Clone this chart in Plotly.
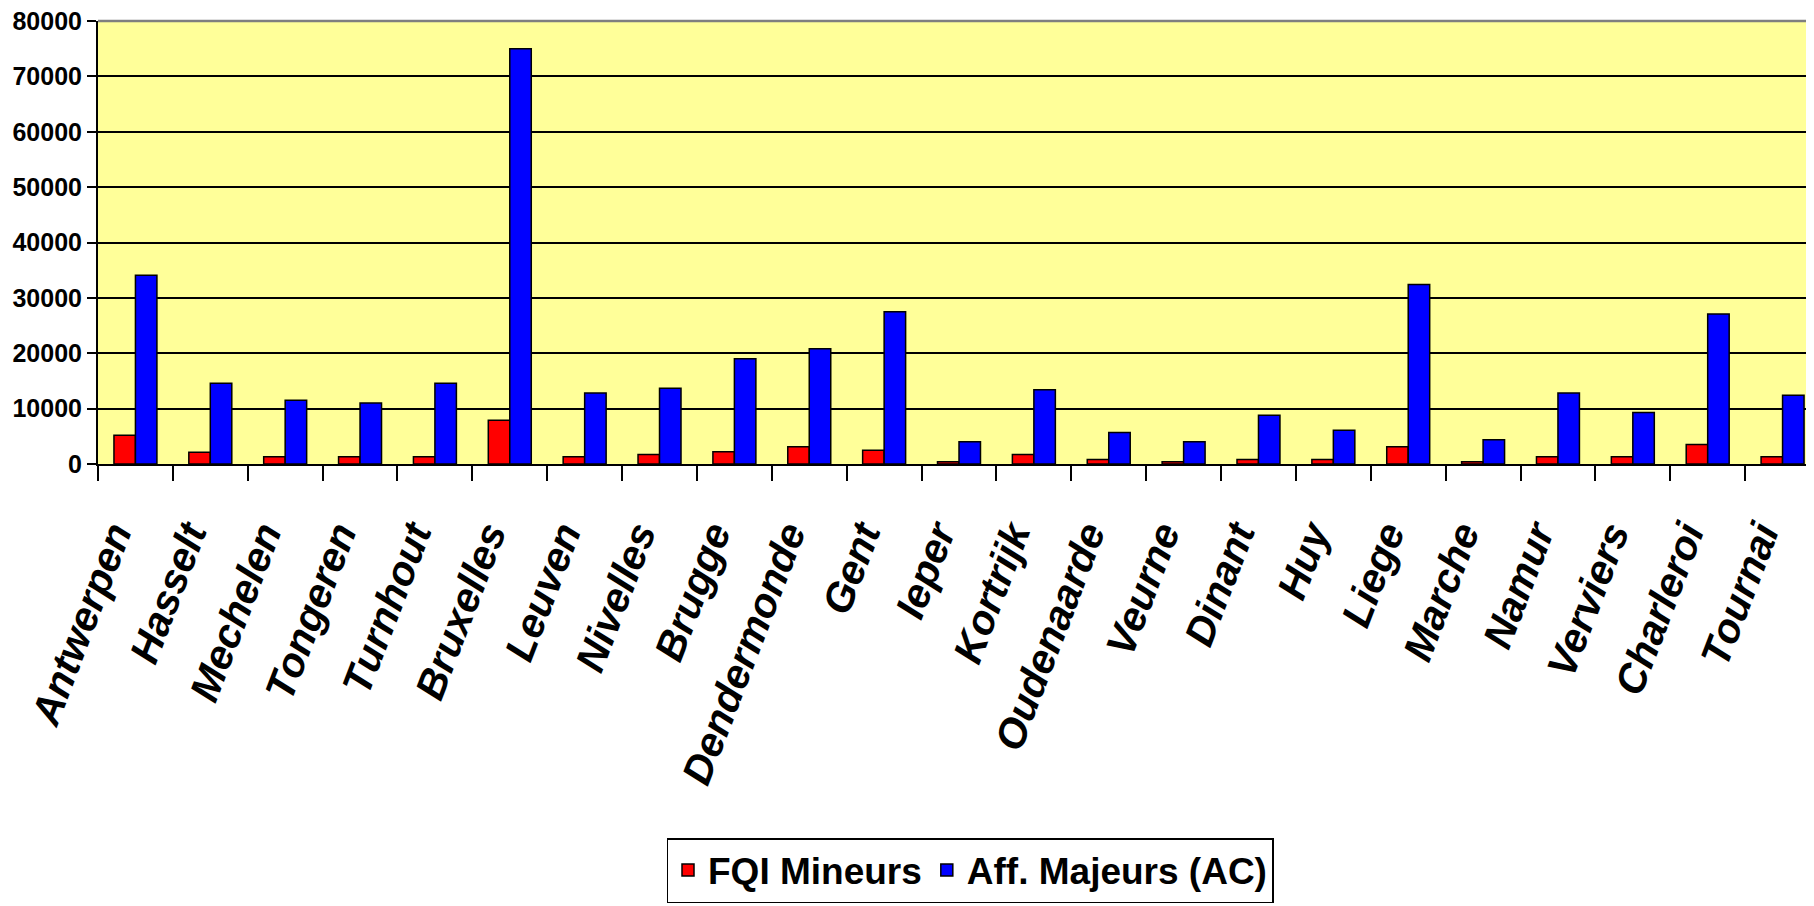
import plotly.graph_objects as go

categories = ["Antwerpen", "Hasselt", "Mechelen", "Tongeren", "Turnhout", "Bruxelles",
              "Leuven", "Nivelles", "Brugge", "Dendermonde", "Gent", "Ieper", "Kortrijk",
              "Oudenaarde", "Veurne", "Dinant", "Huy", "Liege", "Marche", "Namur",
              "Verviers", "Charleroi", "Tournai"]
fqi_mineurs = [5200, 2100, 1300, 1300, 1300, 7900, 1300, 1700, 2200, 3100, 2500, 400, 1700,
               800, 400, 800, 800, 3100, 400, 1300, 1300, 3500, 1300]
aff_majeurs = [34100, 14600, 11500, 11000, 14600, 75000, 12800, 13700, 19000, 20800, 27500,
               4000, 13400, 5700, 4000, 8800, 6100, 32400, 4400, 12800, 9300, 27100, 12400]
y_ticks = [0, 10000, 20000, 30000, 40000, 50000, 60000, 70000, 80000]

# page body has an 8px default margin; size figure so it ends at the window edge
W, H = 1806, 898
L, T, B = 90, 13, 442

fig = go.Figure()
fig.add_trace(go.Bar(x=categories, y=fqi_mineurs, name="FQI Mineurs",
                     marker=dict(color="#FF0000", line=dict(color="black", width=1.5))))
fig.add_trace(go.Bar(x=categories, y=aff_majeurs, name="Aff. Majeurs (AC)",
                     marker=dict(color="#0000FF", line=dict(color="black", width=1.5))))

font_family = "Liberation Sans, Arial, sans-serif"
plot_h = H - T - B
fig.update_layout(
    width=W, height=H,
    margin=dict(l=L, r=0, t=T, b=B, autoexpand=False),
    paper_bgcolor="white",
    plot_bgcolor="#FFFF99",
    barmode="group",
    bargap=0.426,
    bargroupgap=0,
    showlegend=True,
    legend=dict(
        orientation="h",
        x=(970 - 8 - L) / (W - L), xanchor="center",
        y=(T + plot_h - (838 - 8)) / plot_h, yanchor="top",
        bgcolor="white", bordercolor="black", borderwidth=1.5,
        font=dict(family=font_family, size=37, color="black", weight="bold"),
        traceorder="normal",
        itemwidth=30,
    ),
    xaxis=dict(
        range=[-0.5, 22.5 - 6 / 74.9],
        tickson="boundaries",
        ticks="outside", ticklen=15, tickwidth=1.5, tickcolor="black",
        showline=True, linecolor="black", linewidth=2,
        tickangle=-69,
        ticklabelstandoff=28,
        ticklabelshift=-22,
        tickfont=dict(family=font_family, size=41, color="black", weight="bold", style="italic"),
        showgrid=False,
    ),
    yaxis=dict(
        range=[0, 80000],
        tickvals=y_ticks,
        ticktext=[str(v) for v in y_ticks],
        ticks="outside", ticklen=9, tickwidth=1.5, tickcolor="black",
        showline=True, linecolor="black", linewidth=2,
        showgrid=True, gridcolor="black", gridwidth=2,
        tickfont=dict(family=font_family, size=25, color="black", weight="bold"),
        ticklabeloverflow="allow",
        zeroline=False,
    ),
    shapes=[dict(type="line", xref="paper", yref="paper", x0=0, x1=1, y0=1, y1=1,
                 line=dict(color="#7F7F7F", width=2.5), layer="above")],
)
fig.write_html("out.html")
